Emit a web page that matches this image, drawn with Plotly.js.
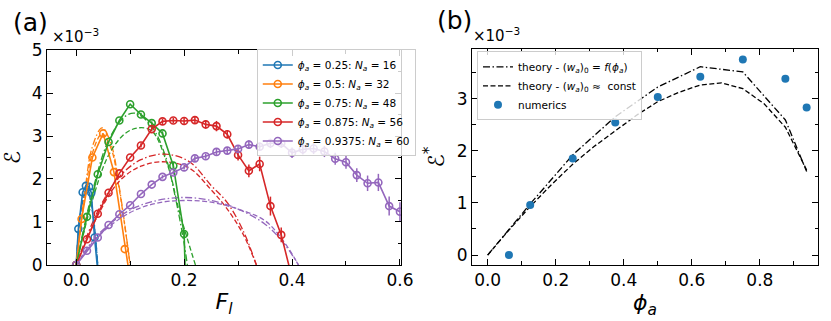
<!DOCTYPE html>
<html>
<head>
<meta charset="utf-8">
<script src="https://cdn.plot.ly/plotly-3.0.1.min.js"></script>
<style>body{margin:0;background:#fff}#graph{width:831px;height:321px}</style>
</head>
<body>
<div id="graph"></div>
<script>
// all energies in units of 1e-3

// panel (a): numerics, E vs F_l
var F_b = [0, 0.004, 0.012, 0.018, 0.024, 0.028, 0.034, 0.042];
var E_b = [0, 0.84, 1.69, 1.84, 1.82, 1.68, 0.64, -0.4];
var F_o = [0, 0.01, 0.03, 0.05, 0.07, 0.09, 0.102];
var E_o = [0, 1.07, 2.5, 3.06, 2.16, 0.37, -0.5];
var F_g = [0, 0.02, 0.04, 0.06, 0.08, 0.1, 0.12, 0.14, 0.16, 0.18, 0.2, 0.203];
var E_g = [0, 1.12, 2.11, 2.86, 3.36, 3.74, 3.5, 3.3, 3.06, 2.31, 0.72, -0.5];
var err_g = [0, 0, 0, 0, 0, 0, 0.04, 0.04, 0.05, 0.08, 0.1, 0];
var F_r = [0, 0.02, 0.04, 0.06, 0.08, 0.1, 0.12, 0.14, 0.16, 0.18, 0.2, 0.22, 0.24, 0.26, 0.28, 0.3, 0.32, 0.34, 0.36, 0.38, 0.4];
var E_r = [0, 0.6, 1.19, 1.68, 2.13, 2.5, 2.78, 3.16, 3.34, 3.36, 3.35, 3.37, 3.27, 3.23, 3.04, 2.56, 2.19, 2.35, 1.37, 0.7, -0.3];
var err_r = [0, 0, 0, 0, 0, 0, 0.05, 0.05, 0.06, 0.06, 0.07, 0.08, 0.1, 0.12, 0.1, 0.13, 0.15, 0.17, 0.22, 0.17, 0];
var F_p = [0, 0.02, 0.04, 0.06, 0.08, 0.1, 0.12, 0.14, 0.16, 0.18, 0.2, 0.22, 0.24, 0.26, 0.28, 0.3, 0.32, 0.34, 0.36, 0.38, 0.4, 0.42, 0.44, 0.46, 0.48, 0.5, 0.52, 0.54, 0.56, 0.58, 0.6];
var E_p = [0, 0.33, 0.64, 0.93, 1.18, 1.39, 1.65, 1.87, 2.05, 2.15, 2.27, 2.48, 2.53, 2.63, 2.66, 2.7, 2.8, 2.75, 2.83, 2.83, 2.61, 2.69, 2.71, 2.64, 2.47, 2.39, 2.09, 1.9, 1.92, 1.37, 1.24];
var err_p = [0, 0, 0, 0, 0, 0, 0, 0, 0.04, 0.05, 0.05, 0.06, 0.06, 0.07, 0.08, 0.09, 0.1, 0.1, 0.11, 0.11, 0.12, 0.12, 0.13, 0.13, 0.14, 0.15, 0.16, 0.18, 0.2, 0.22, 0.22];

// panel (a): theory curves (dash-dot = f(phi), dashed = const)
var Ft_b = [0, 0.01, 0.02, 0.03, 0.04];
var Edd_b = [0, 1.4, 1.8, 1.3, 0];
var Eda_b = [0, 1.35, 1.75, 1.25, 0];
var Ft_o = [0, 0.015, 0.03, 0.048, 0.065, 0.08, 0.1];
var Edd_o = [0, 1.6, 2.75, 3.19, 2.8, 1.8, 0];
var Eda_o = [0, 1.5, 2.6, 3.05, 2.7, 1.75, 0];
var Ftdd_g = [0, 0.03, 0.06, 0.09, 0.11, 0.14, 0.165, 0.185, 0.2, 0.206];
var Edd_g = [0, 1.7, 2.9, 3.45, 3.53, 3.22, 2.55, 1.5, 0.5, 0];
var Ftda_g = [0, 0.03, 0.06, 0.09, 0.115, 0.14, 0.17, 0.19, 0.205, 0.221];
var Eda_g = [0, 1.5, 2.55, 3.05, 3.19, 3.12, 2.3, 1.3, 0.65, 0];
var Ft_r = [0, 0.04, 0.08, 0.12, 0.165, 0.21, 0.25, 0.28, 0.31, 0.334];
var Edd_r = [0, 1.25, 2.05, 2.45, 2.58, 2.4, 1.85, 1.45, 0.78, 0];
var Eda_r = [0, 1.15, 1.95, 2.3, 2.4, 2.25, 1.75, 1.3, 0.7, 0];
var Ft_p = [0, 0.04, 0.1, 0.15, 0.2, 0.25, 0.3, 0.35, 0.385, 0.412];
var Edd_p = [0, 0.7, 1.28, 1.5, 1.57, 1.5, 1.3, 0.95, 0.5, 0];
var Eda_p = [0, 0.66, 1.22, 1.44, 1.5, 1.46, 1.3, 1.03, 0.54, 0];

// panel (b): E* vs phi_a
var phi_num = [0.0625, 0.125, 0.25, 0.375, 0.5, 0.625, 0.75, 0.875, 0.9375];
var Es_num = [0, 0.96, 1.85, 2.54, 3.03, 3.42, 3.75, 3.38, 2.83];
var phi_f = [0, 0.0625, 0.125, 0.25, 0.375, 0.5, 0.625, 0.75, 0.875, 0.9375];
var Es_f = [0, 0.5, 0.98, 1.92, 2.65, 3.22, 3.61, 3.51, 2.59, 1.6];
var phi_c = [0, 0.0625, 0.125, 0.1875, 0.25, 0.3125, 0.375, 0.4375, 0.5, 0.5625, 0.625, 0.6875, 0.75, 0.8125, 0.875, 0.9375];
var Es_c = [0, 0.48, 0.93, 1.35, 1.74, 2.08, 2.38, 2.68, 2.94, 3.12, 3.26, 3.3, 3.19, 2.9, 2.45, 1.63];

var names = [
  '<i>ϕ<sub>a</sub></i> = 0.25: <i>N<sub>a</sub></i> = 16',
  '<i>ϕ<sub>a</sub></i> = 0.5: <i>N<sub>a</sub></i> = 32',
  '<i>ϕ<sub>a</sub></i> = 0.75: <i>N<sub>a</sub></i> = 48',
  '<i>ϕ<sub>a</sub></i> = 0.875: <i>N<sub>a</sub></i> = 56',
  '<i>ϕ<sub>a</sub></i> = 0.9375: <i>N<sub>a</sub></i> = 60'
];
var colors = ['#1f77b4', '#ff7f0e', '#2ca02c', '#d62728', '#9467bd'];

var DASHDOT = '7px,2.5px,1.5px,2.5px';
var DASH = '5px,2.5px';

var traces = [];

// theory curves first so data sits on top
var theory = [
  [Ft_b, Edd_b, Ft_b, Eda_b],
  [Ft_o, Edd_o, Ft_o, Eda_o],
  [Ftdd_g, Edd_g, Ftda_g, Eda_g],
  [Ft_r, Edd_r, Ft_r, Eda_r],
  [Ft_p, Edd_p, Ft_p, Eda_p]
];
for (var i = 0; i < theory.length; i++) {
  traces.push({
    x: theory[i][0], y: theory[i][1], mode: 'lines',
    line: {color: colors[i], width: 1.3, dash: DASHDOT, shape: 'spline'},
    showlegend: false, hoverinfo: 'none', xaxis: 'x', yaxis: 'y'
  });
  traces.push({
    x: theory[i][2], y: theory[i][3], mode: 'lines',
    line: {color: colors[i], width: 1.3, dash: DASH, shape: 'spline'},
    showlegend: false, hoverinfo: 'none', xaxis: 'x', yaxis: 'y'
  });
}

var data = [
  [F_b, E_b, null],
  [F_o, E_o, null],
  [F_g, E_g, err_g],
  [F_r, E_r, err_r],
  [F_p, E_p, err_p]
];
for (var i = 0; i < data.length; i++) {
  var t = {
    x: data[i][0], y: data[i][1], mode: 'lines+markers', name: names[i],
    line: {color: colors[i], width: 1.6},
    marker: {symbol: 'circle-open', size: 7, color: colors[i], line: {width: 1.6}},
    xaxis: 'x', yaxis: 'y', legend: 'legend', hoverinfo: 'none'
  };
  if (data[i][2]) {
    t.error_y = {type: 'data', array: data[i][2], visible: true, color: colors[i], thickness: 1.5, width: 0};
  }
  traces.push(t);
}

traces.push({
  x: phi_f, y: Es_f, mode: 'lines',
  name: 'theory - (<i>w<sub>a</sub></i>)<sub>0</sub> = <i>f</i>(<i>ϕ<sub>a</sub></i>)',
  line: {color: '#000', width: 1.3, dash: DASHDOT},
  xaxis: 'x2', yaxis: 'y2', legend: 'legend2', hoverinfo: 'none'
});
traces.push({
  x: phi_c, y: Es_c, mode: 'lines',
  name: 'theory - (<i>w<sub>a</sub></i>)<sub>0</sub> ≈  const',
  line: {color: '#000', width: 1.3, dash: DASH},
  xaxis: 'x2', yaxis: 'y2', legend: 'legend2', hoverinfo: 'none'
});
traces.push({
  x: phi_num, y: Es_num, mode: 'markers', name: 'numerics',
  marker: {color: '#1f77b4', size: 8},
  xaxis: 'x2', yaxis: 'y2', legend: 'legend2', hoverinfo: 'none'
});

var FONT = 'DejaVu Sans, sans-serif';
function ax(extra) {
  var a = {
    showline: true, linecolor: '#000', linewidth: 1, mirror: 'allticks',
    ticks: 'inside', ticklen: 6, tickwidth: 1, tickcolor: '#000',
    showgrid: false, zeroline: false,
    tickfont: {family: FONT, size: 17, color: '#000'}
  };
  for (var k in extra) a[k] = extra[k];
  return a;
}
function minor(step) {
  return {ticks: 'inside', ticklen: 3.5, tickwidth: 1, tickcolor: '#000', dtick: step, tick0: 0, showgrid: false};
}

var layout = {
  width: 831, height: 321,
  margin: {l: 0, r: 0, t: 0, b: 0},
  paper_bgcolor: '#fff', plot_bgcolor: '#fff',
  font: {family: FONT, color: '#000'},
  xaxis: ax({domain: [0.0566, 0.4826], range: [-0.054, 0.602], dtick: 0.2, tick0: 0, tickformat: '.1f',
    minor: minor(0.1),
    title: {text: '<i>F<sub>l</sub></i>', font: {family: FONT, size: 22}, standoff: 4}, anchor: 'y'}),
  yaxis: ax({domain: [0.1745, 0.8442], range: [0, 5], dtick: 1, tick0: 0,
    minor: minor(0.5),
    title: {text: 'ℰ', font: {family: FONT, size: 22}, standoff: 6}, anchor: 'x'}),
  xaxis2: ax({domain: [0.568, 0.9844], range: [-0.046, 0.971], dtick: 0.2, tick0: 0, tickformat: '.1f',
    minor: minor(0.1),
    title: {text: '<i>ϕ<sub>a</sub></i>', font: {family: FONT, size: 22}, standoff: 4}, anchor: 'y2'}),
  yaxis2: ax({domain: [0.1745, 0.8474], range: [-0.19, 3.95], dtick: 1, tick0: 0,
    minor: minor(0.5),
    title: {text: 'ℰ<sup>*</sup>', font: {family: FONT, size: 22}, standoff: 6}, anchor: 'x2'}),
  legend: {
    x: 0.309, y: 0.846, xanchor: 'left', yanchor: 'top',
    bgcolor: 'rgba(255,255,255,0.8)', bordercolor: '#cccccc', borderwidth: 1,
    font: {family: FONT, size: 10.5}, itemwidth: 30, tracegroupgap: 0
  },
  legend2: {
    x: 0.574, y: 0.84, xanchor: 'left', yanchor: 'top',
    bgcolor: 'rgba(255,255,255,0.8)', bordercolor: '#cccccc', borderwidth: 1,
    font: {family: FONT, size: 10.5}, itemwidth: 30, tracegroupgap: 0
  },
  annotations: [
    {text: '(a)', xref: 'paper', yref: 'paper', x: 11 / 831, y: 1 - 6 / 321, xanchor: 'left', yanchor: 'top', showarrow: false, font: {family: FONT, size: 25}},
    {text: '(b)', xref: 'paper', yref: 'paper', x: 435 / 831, y: 1 - 4 / 321, xanchor: 'left', yanchor: 'top', showarrow: false, font: {family: FONT, size: 25}},
    {text: '×10<sup>−3</sup>', xref: 'paper', yref: 'paper', x: 50 / 831, y: 1 - 48 / 321, xanchor: 'left', yanchor: 'bottom', showarrow: false, font: {family: FONT, size: 15}},
    {text: '×10<sup>−3</sup>', xref: 'paper', yref: 'paper', x: 471 / 831, y: 1 - 47 / 321, xanchor: 'left', yanchor: 'bottom', showarrow: false, font: {family: FONT, size: 15}}
  ]
};

Plotly.newPlot('graph', traces, layout, {staticPlot: true});
</script>
</body>
</html>
